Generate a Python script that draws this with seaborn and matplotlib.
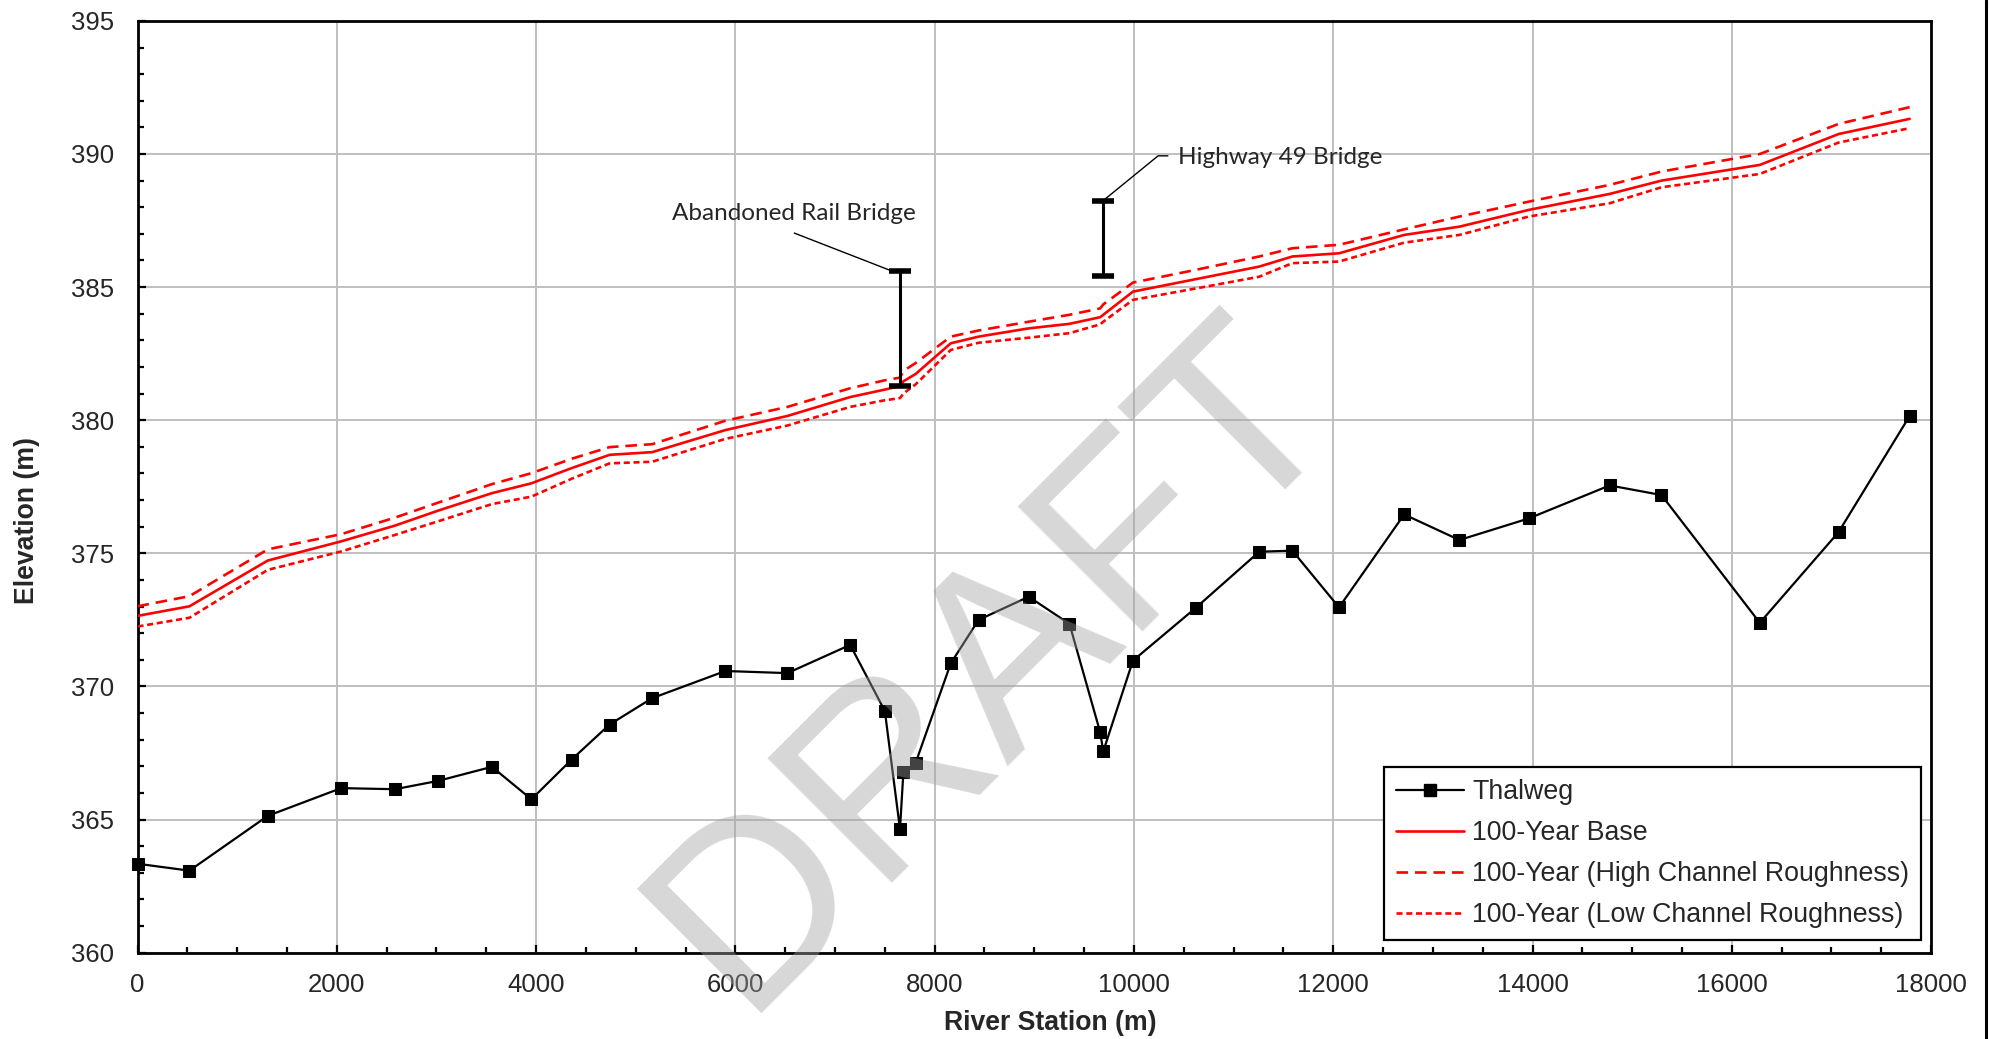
import numpy as np
import pandas as pd
import matplotlib
matplotlib.use("Agg")
import matplotlib.pyplot as plt
from matplotlib.ticker import MultipleLocator
from matplotlib.lines import Line2D
import seaborn as sns

# ---------------- data ----------------
stations = [0, 521, 1308, 2044, 2583, 3014, 3557, 3953, 4356, 4738, 5165, 5900,
            6522, 7152, 7500, 7652, 7686, 7810, 8162, 8441, 8944, 9353, 9661,
            9692, 9990, 10623, 11257, 11590, 12058, 12712, 13266, 13962, 14774,
            15294, 16281, 17072, 17785]

thalweg = [363.34, 363.08, 365.14, 366.18, 366.14, 366.45, 366.98, 365.76,
           367.25, 368.57, 369.56, 370.58, 370.50, 371.56, 369.08, 364.64,
           366.77, 367.14, 370.87, 372.50, 373.37, 372.35, 368.28, 367.56,
           370.97, 372.96, 375.06, 375.10, 372.97, 376.46, 375.50, 376.31,
           377.55, 377.19, 372.39, 375.80, 380.16]

wse_base = [372.65, 373.01, 374.73, 375.45, 376.04, 376.60, 377.26, 377.63,
            378.20, 378.70, 378.80, 379.63, 380.16, 380.87, 381.15, 381.28,
            381.46, 381.74, 382.89, 383.14, 383.45, 383.62, 383.87, 383.96,
            384.83, 385.30, 385.77, 386.15, 386.27, 386.96, 387.27, 387.90,
            388.50, 389.00, 389.59, 390.75, 391.32]

wse_high = [373.01, 373.39, 375.15, 375.72, 376.34, 376.90, 377.60, 378.01,
            378.55, 378.99, 379.10, 379.98, 380.50, 381.20, 381.50, 381.60,
            381.85, 382.15, 383.14, 383.37, 383.70, 383.96, 384.20, 384.35,
            385.17, 385.65, 386.15, 386.46, 386.59, 387.17, 387.65, 388.21,
            388.84, 389.34, 390.00, 391.13, 391.76]

wse_low = [372.25, 372.58, 374.38, 375.07, 375.69, 376.20, 376.85, 377.13,
           377.80, 378.38, 378.44, 379.30, 379.80, 380.50, 380.75, 380.83,
           381.00, 381.35, 382.64, 382.91, 383.10, 383.27, 383.60, 383.70,
           384.52, 384.95, 385.39, 385.90, 385.96, 386.67, 386.96, 387.65,
           388.15, 388.75, 389.25, 390.43, 390.97]

series_labels = ["Thalweg", "100-Year Base", "100-Year (High Channel Roughness)",
                 "100-Year (Low Channel Roughness)"]

bridge_names = ["Abandoned Rail Bridge", "Highway 49 Bridge"]
bridge_station = [7656, 9690]
bridge_low = [381.30, 385.42]
bridge_high = [385.60, 388.24]

x_ticks = [0, 2000, 4000, 6000, 8000, 10000, 12000, 14000, 16000, 18000]
y_ticks = [360, 365, 370, 375, 380, 385, 390, 395]

df = pd.DataFrame({"station": stations, "thalweg": thalweg, "base": wse_base,
                   "high": wse_high, "low": wse_low})

# ---------------- style ----------------
sns.set_style("white")
plt.rcParams["font.family"] = ["Liberation Sans", "DejaVu Sans"]

fig = plt.figure(figsize=(19.90, 10.39), dpi=100)
ax = fig.add_axes([0.0691, 0.0831, 0.9013, 0.8968])

DASH_HI = (0, (4.4, 2.6))
DASH_LO = (0, (2.3, 1.4))

sns.lineplot(data=df, x="station", y="thalweg", ax=ax, color="black", lw=1.6,
             marker="s", markersize=9, markeredgecolor="black",
             markerfacecolor="black", label=series_labels[0], zorder=4,
             clip_on=False)
sns.lineplot(data=df, x="station", y="base", ax=ax, color="#ff0000", lw=1.9,
             label=series_labels[1], zorder=3)
sns.lineplot(data=df, x="station", y="high", ax=ax, color="#ff0000", lw=1.9,
             linestyle=DASH_HI, label=series_labels[2], zorder=3)
sns.lineplot(data=df, x="station", y="low", ax=ax, color="#ff0000", lw=1.9,
             linestyle=DASH_LO, label=series_labels[3], zorder=3)

# bridges as I-beams
mid = [(l + h) / 2 for l, h in zip(bridge_low, bridge_high)]
err = [[m - l for m, l in zip(mid, bridge_low)],
       [h - m for h, m in zip(bridge_high, mid)]]
ax.errorbar(bridge_station, mid, yerr=err, fmt="none", ecolor="black",
            elinewidth=2.2, capsize=8, capthick=4, zorder=5)

ann_font = ["Lato", "DejaVu Sans"]
ax.plot([6591, 7560], [387.03, 385.62], color="black", lw=1.0, zorder=5)
ax.text(6589, 387.75, bridge_names[0], ha="center", va="center",
        fontsize=17.5, family=ann_font, zorder=6)
ax.plot([9695, 10242, 10341], [388.26, 389.93, 389.93], color="black",
        lw=1.0, zorder=5)
ax.text(10443, 389.86, bridge_names[1], ha="left", va="center",
        fontsize=17.5, family=ann_font, zorder=6)

# axes
ax.set_xlim(0, 18000)
ax.set_ylim(360, 395)
ax.set_xticks(x_ticks)
ax.set_yticks(y_ticks)
ax.xaxis.set_minor_locator(MultipleLocator(500))
ax.yaxis.set_minor_locator(MultipleLocator(1))
ax.grid(True, which="major", color="#bfbfbf", lw=1.4, zorder=0)
ax.set_axisbelow(True)
for s in ax.spines.values():
    s.set_color("black")
    s.set_linewidth(2.0)
ax.tick_params(which="both", direction="in", color="black", left=True,
               bottom=True, right=False, top=False)
ax.tick_params(which="major", length=6, width=1.6, labelsize=18.5)
ax.tick_params(which="minor", length=4, width=1.6)
ax.tick_params(axis="y", which="major", pad=17)
ax.tick_params(axis="x", which="major", pad=14.5)

ax.set_xlabel("River Station (m)", fontsize=19.2, fontweight="bold")
ax.set_ylabel("Elevation (m)", fontsize=19.2, fontweight="bold")
ax.xaxis.set_label_coords(0.509, -0.0615)
ax.yaxis.set_label_coords(-0.0544, 0.464)

handles = [
    Line2D([], [], color="black", lw=1.6, marker="s", markersize=9),
    Line2D([], [], color="#ff0000", lw=1.9),
    Line2D([], [], color="#ff0000", lw=1.9, linestyle=DASH_HI),
    Line2D([], [], color="#ff0000", lw=1.9, linestyle=DASH_LO),
]
leg = ax.legend(handles, series_labels, loc="lower right",
                bbox_to_anchor=(0.9944, 0.0136), borderaxespad=0,
                fontsize=19.3, frameon=True, fancybox=False, edgecolor="black",
                framealpha=1, borderpad=0.45, labelspacing=0.56,
                handlelength=2.55, handletextpad=0.3)
leg.get_frame().set_linewidth(1.6)
leg.set_zorder(7)

# watermark
fig.text(0.5003, 0.3600, "DRAFT", fontsize=184, color=(0.63, 0.63, 0.63),
         alpha=0.42, rotation=45, rotation_mode="anchor", ha="center",
         va="center", zorder=10, family=["Liberation Sans", "DejaVu Sans"])

# right edge border line
fig.add_artist(Line2D([0.998, 0.998], [0, 1], transform=fig.transFigure,
                      color="black", lw=2.2))

fig.savefig("out.png", dpi=100)
